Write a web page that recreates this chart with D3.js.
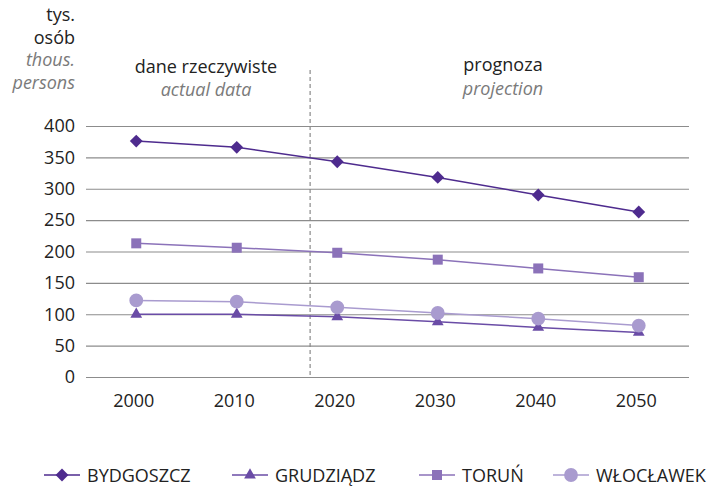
<!DOCTYPE html>
<html>
<head>
<meta charset="utf-8">
<script src="https://cdn.jsdelivr.net/npm/d3@7"></script>
<style>
  body { margin: 0; background: #fff; }
  svg { font-family: 'Open Sans', sans-serif; }
</style>
</head>
<body>
<svg id="chart" width="716" height="486"></svg>
<script>
'use strict'

// data
const years = [2000, 2010, 2020, 2030, 2040, 2050]
const bydgoszcz = [376, 366, 343, 318, 290, 263]
const grudziadz = [100, 100, 96, 88, 79, 71]
const torun = [213, 206, 198, 187, 173, 159]
const wloclawek = [122, 120, 111, 102, 93, 82]
const yTicks = [0, 50, 100, 150, 200, 250, 300, 350, 400]
const projectionStart = 2017.3

const series = [
  { name: 'BYDGOSZCZ', values: bydgoszcz, color: '#4e2b8e', symbol: d3.symbolDiamond2, size: 105 },
  { name: 'GRUDZIĄDZ', values: grudziadz, color: '#6a4ca6', symbol: d3.symbolTriangle, size: 60 },
  { name: 'TORUŃ', values: torun, color: '#8b72b9', symbol: d3.symbolSquare, size: 100 },
  { name: 'WŁOCŁAWEK', values: wloclawek, color: '#a99bcf', symbol: d3.symbolCircle, size: 150 }
]

let svg = d3.select('#chart')
let margin = { top: 126, left: 86, right: 27, bottom: 109 }
let width = 716 - margin.left - margin.right
let height = 486 - margin.top - margin.bottom

let x = d3.scaleLinear().domain([1995, 2055]).range([margin.left, margin.left + width])
let y = d3.scaleLinear().domain([0, 400]).range([margin.top + height, margin.top])

// gridlines + y labels
let yAxis = svg.append('g')
  .attr('transform', `translate(${margin.left}, 0)`)
  .call(d3.axisLeft(y).tickValues(yTicks).tickSize(-width).tickPadding(11))
yAxis.select('.domain').remove()
yAxis.selectAll('line').attr('stroke', '#8c8c8c').attr('stroke-width', 1.2)
yAxis.selectAll('text').attr('font-size', '18px').attr('fill', '#222').attr('font-family', 'Open Sans')

// year labels
let xAxis = svg.append('g')
  .attr('transform', `translate(0, ${y(0)})`)
  .call(d3.axisBottom(x).tickValues(years).tickFormat(d3.format('d')).tickSize(0).tickPadding(17))
xAxis.select('.domain').remove()
xAxis.selectAll('text').attr('font-size', '18px').attr('fill', '#222').attr('font-family', 'Open Sans').attr('dx', -3)

// divider between actual data and projection
svg.append('line')
  .attr('x1', x(projectionStart)).attr('x2', x(projectionStart))
  .attr('y1', 70).attr('y2', y(0))
  .attr('stroke', '#8a8a8a').attr('stroke-width', 1.2).attr('stroke-dasharray', '4,3')

// unit label
let unit = svg.append('g').attr('text-anchor', 'end').attr('font-size', '18px')
unit.append('text').attr('x', 75).attr('y', 21).attr('fill', '#222').text('tys.')
unit.append('text').attr('x', 75).attr('y', 44).attr('fill', '#222').text('osób')
unit.append('text').attr('x', 75).attr('y', 66).attr('fill', '#7a7a7a').attr('font-style', 'italic').text('thous.')
unit.append('text').attr('x', 75).attr('y', 89).attr('fill', '#7a7a7a').attr('font-style', 'italic').text('persons')

// section headers
let head = svg.append('g').attr('text-anchor', 'middle').attr('font-size', '18px')
head.append('text').attr('x', 206).attr('y', 73).attr('fill', '#222').text('dane rzeczywiste')
head.append('text').attr('x', 206).attr('y', 96).attr('fill', '#7a7a7a').attr('font-style', 'italic').text('actual data')
head.append('text').attr('x', 503).attr('y', 71).attr('fill', '#222').text('prognoza')
head.append('text').attr('x', 503).attr('y', 95).attr('fill', '#7a7a7a').attr('font-style', 'italic').text('projection')

let line = d3.line().x((d, i) => x(years[i])).y(d => y(d))

let lines = svg.append('g').selectAll('g').data(series).enter().append('g')

lines.append('path')
  .attr('d', d => line(d.values))
  .attr('fill', 'none')
  .attr('stroke', d => d.color)
  .attr('stroke-width', 1.5)

lines.selectAll('path.mark')
  .data(d => d.values.map((v, i) => ({ v: v, i: i, s: d })))
  .enter()
  .append('path')
  .attr('class', 'mark')
  .attr('transform', d => `translate(${x(years[d.i])}, ${y(d.v)})`)
  .attr('d', d => d3.symbol(d.s.symbol, d.s.size)())
  .attr('fill', d => d.s.color)

// legend
let legendX = [44, 232, 419, 553]
let legend = svg.append('g').selectAll('g').data(series).enter().append('g')
  .attr('transform', (d, i) => `translate(${legendX[i]}, 475)`)

legend.append('line').attr('x1', 0).attr('x2', 36).attr('stroke', d => d.color).attr('stroke-width', 1.5)
legend.append('path').attr('transform', 'translate(18, 0)').attr('d', d => d3.symbol(d.symbol, d.size)()).attr('fill', d => d.color)
legend.append('text')
  .attr('x', 43).attr('y', 7)
  .attr('font-size', '18px').attr('fill', '#222')
  .text(d => d.name)
</script>
</body>
</html>
